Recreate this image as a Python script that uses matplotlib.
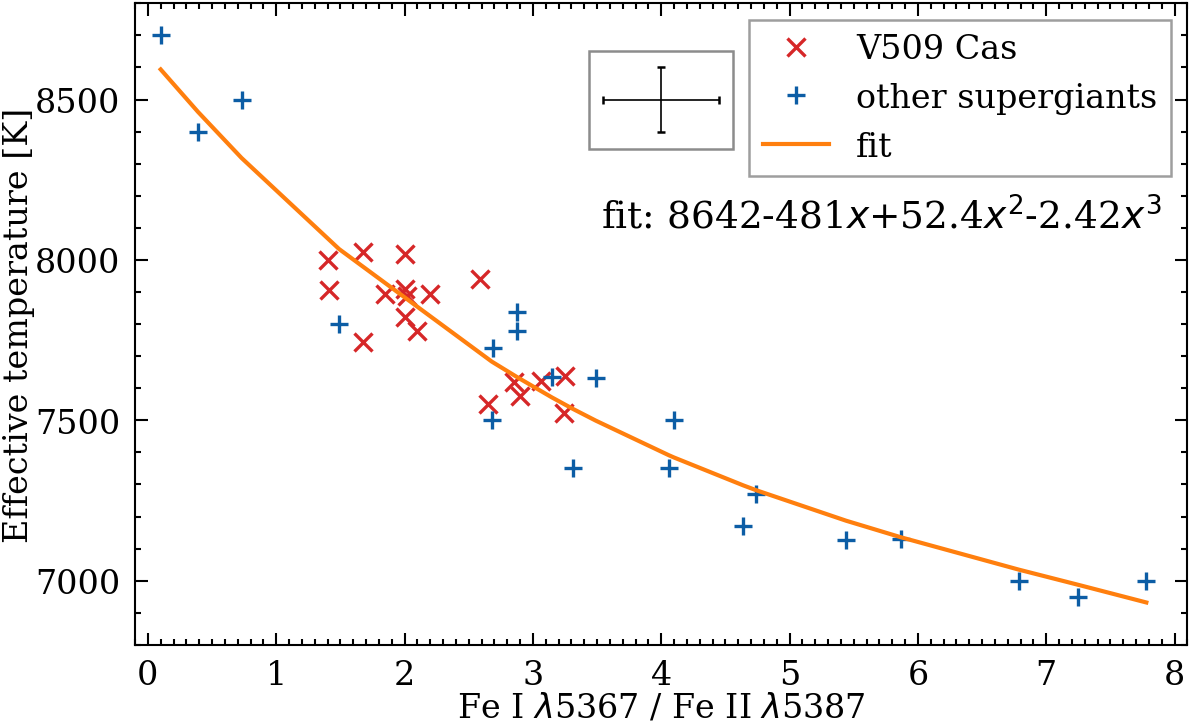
import matplotlib
matplotlib.use("Agg")
import matplotlib.pyplot as plt
from matplotlib.patches import Rectangle
from matplotlib.ticker import MultipleLocator

# --- data ---
v509_x = [1.40, 1.68, 2.00, 1.41, 1.85, 2.00, 2.02, 2.00, 2.10, 2.20,
          1.68, 2.59, 2.85, 2.90, 3.06, 3.25, 2.65, 3.24]
v509_y = [8000, 8024, 8019, 7906, 7894, 7909, 7888, 7821, 7779, 7894,
          7745, 7941, 7618, 7576, 7623, 7638, 7552, 7524]

other_x = [0.10, 0.39, 0.73, 1.49, 2.69, 2.88, 2.88, 2.68, 3.15, 3.49,
           3.31, 4.10, 4.06, 4.74, 4.64, 5.44, 5.87, 6.79, 7.25, 7.78]
other_y = [8700, 8400, 8500, 7800, 7725, 7838, 7778, 7500, 7634, 7631,
           7350, 7500, 7350, 7269, 7170, 7128, 7130, 7000, 6949, 7000]

fit_x = [0.10, 0.39, 0.73, 1.49, 2.68, 2.88, 3.15, 3.31, 3.49, 4.06,
         4.10, 4.64, 4.74, 5.44, 5.87, 6.79, 7.25, 7.78]
fit_y = [8594, 8462, 8318, 8034, 7683, 7634, 7571, 7536, 7499, 7391,
         7384, 7297, 7282, 7187, 7135, 7034, 6987, 6932]

err_x, err_y = 4.0, 8500
err_dx, err_dy = 0.45, 100
box_x0, box_x1 = 3.44, 4.56
box_y0, box_y1 = 8347, 8653

fit_text = r"fit: 8642-481$x$+52.4$x^2$-2.42$x^3$"

# --- style ---
plt.rcParams.update({
    "font.family": "DejaVu Serif",
    "font.size": 8,
    "mathtext.fontset": "dejavusans",
    "axes.linewidth": 0.5,
    "xtick.direction": "in",
    "ytick.direction": "in",
    "xtick.top": True,
    "ytick.right": True,
    "xtick.major.size": 3,
    "ytick.major.size": 3,
    "xtick.minor.size": 1.5,
    "ytick.minor.size": 1.5,
    "xtick.major.width": 0.5,
    "ytick.major.width": 0.5,
    "xtick.minor.width": 0.5,
    "ytick.minor.width": 0.5,
    "xtick.minor.visible": True,
    "ytick.minor.visible": True,
})

fig = plt.figure(figsize=(4.0, 2.4133), dpi=300)
ax = fig.add_axes([0.1125, 0.108, 0.877, 0.886])

ax.plot(v509_x, v509_y, linestyle="none", marker="x", color="#d62728",
        ms=4.5, mew=0.8, label="V509 Cas")
ax.plot(other_x, other_y, linestyle="none", marker="+", color="#0C5DA5",
        ms=4.5, mew=0.8, label="other supergiants")
ax.plot(fit_x, fit_y, color="#ff7f0e", lw=1.0, label="fit")

ax.errorbar([err_x], [err_y], xerr=[err_dx], yerr=[err_dy], fmt="none",
            ecolor="black", elinewidth=0.4, capsize=1.0, capthick=0.6)
ax.add_patch(Rectangle((box_x0, box_y0), box_x1 - box_x0, box_y1 - box_y0,
                       fill=False, edgecolor="#8c8c8c", lw=0.6))

leg = ax.legend(loc="upper right", fancybox=False, edgecolor="#9e9e9e",
                framealpha=1.0, handlelength=2.0)
leg.get_frame().set_linewidth(0.6)

ax.text(7.90, 8134, fit_text, ha="right", va="center", fontsize=9)

ax.set_xlim(-0.1, 8.1)
ax.set_ylim(6800, 8800)
ax.xaxis.set_major_locator(MultipleLocator(1))
ax.xaxis.set_minor_locator(MultipleLocator(0.1))
ax.yaxis.set_major_locator(MultipleLocator(500))
ax.yaxis.set_minor_locator(MultipleLocator(100))

ax.set_xlabel(r"Fe I $\lambda$5367 / Fe II $\lambda$5387", labelpad=0)
ax.set_ylabel("Effective temperature [K]", labelpad=0)

fig.savefig("out.png", dpi=300)
